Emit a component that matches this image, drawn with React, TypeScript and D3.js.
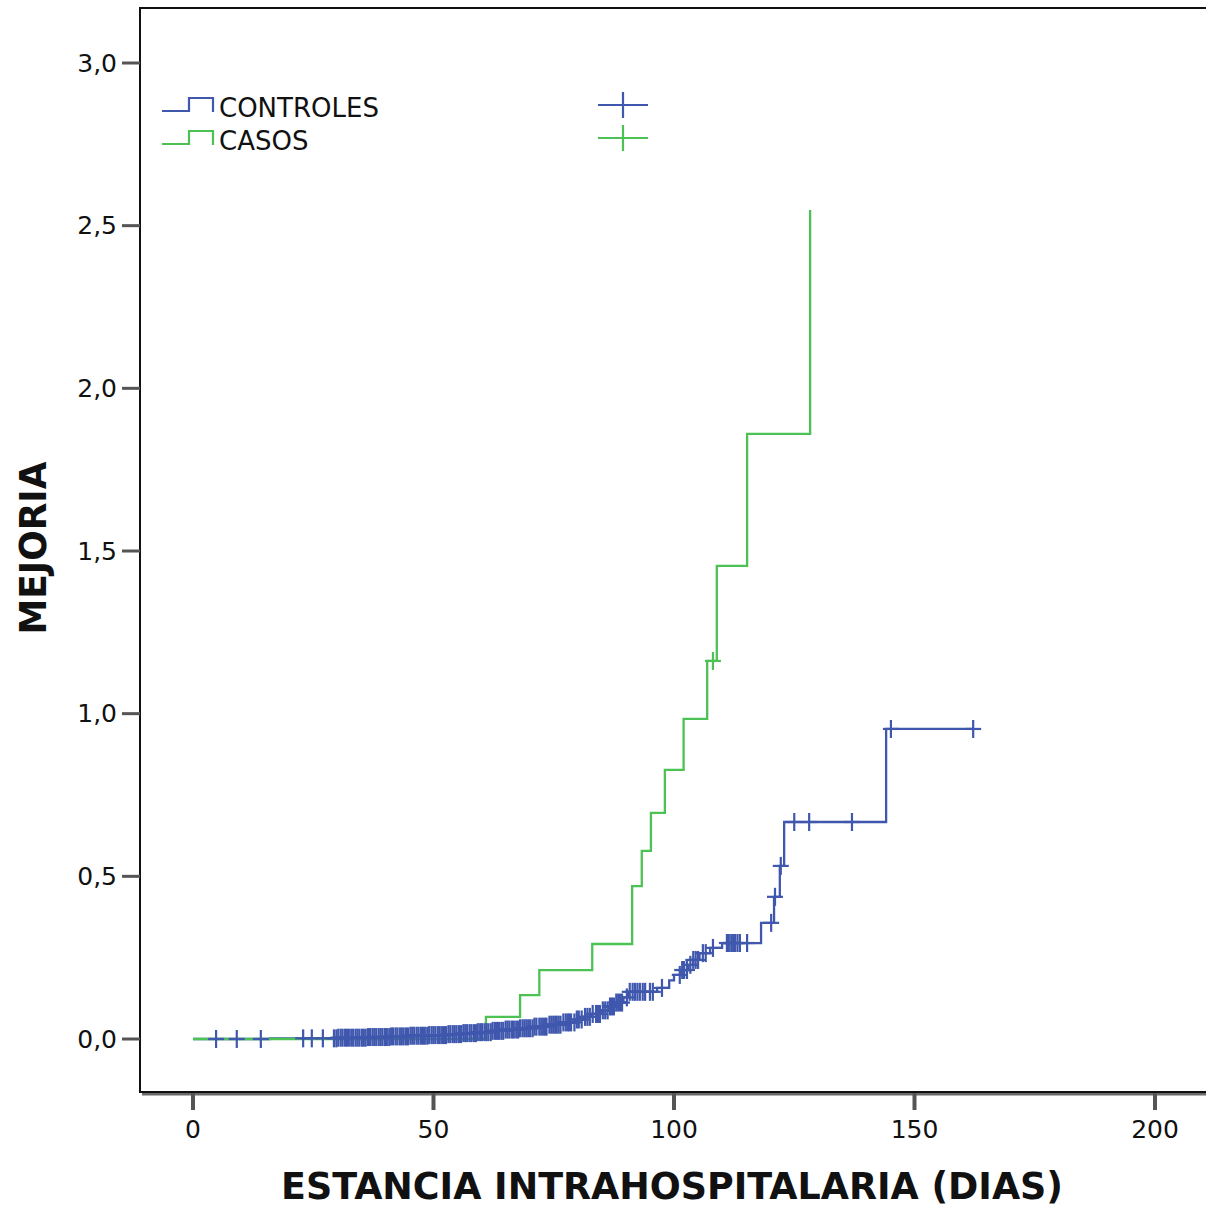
import React from "react";
import * as d3 from "d3";

// Cumulative hazard step points (time in days, value) per group
const controlStepTimes = [0, 16, 30, 36, 41, 45, 49, 53, 56, 59, 62, 65, 68, 71, 74, 77, 79.5, 81, 83, 85, 86.5, 88, 89.5, 90.5, 96.5, 99, 100, 101.5, 103, 104, 105.3, 107.5, 110, 118.1, 120.8, 122, 122.9, 144.1];
const controlStepValues = [0, 0.002, 0.004, 0.006, 0.008, 0.01, 0.012, 0.015, 0.018, 0.021, 0.025, 0.029, 0.033, 0.038, 0.044, 0.051, 0.06, 0.068, 0.077, 0.088, 0.1, 0.112, 0.128, 0.145, 0.157, 0.18, 0.197, 0.212, 0.228, 0.243, 0.264, 0.28, 0.295, 0.357, 0.437, 0.532, 0.667, 0.953];
const controlEnd = 162.2;
const controlCensorTimes = [
  4.8, 9.1, 14.1, 22.9, 24.7, 27.0,
  29.3, 29.8, 30.2, 30.7, 31.1, 31.6, 32.0, 32.4, 32.9, 33.3, 33.8, 34.2, 34.6, 35.1, 35.5, 35.9, 36.4, 36.8, 37.3, 37.7,
  38.1, 38.6, 39.0, 39.4, 39.9, 40.3, 40.8, 41.2, 41.6, 42.1, 42.5, 43.0, 43.4, 43.8, 44.3, 44.7, 45.2, 45.6, 46.0, 46.5,
  46.9, 47.4, 47.8, 48.2, 48.7, 49.1, 49.6, 50.0, 50.4, 50.9, 51.3, 51.8, 52.2, 52.6, 53.1, 53.5, 54.0, 54.4, 54.8, 55.3,
  55.7, 56.2, 56.6, 57.0, 57.5, 57.9, 58.4, 58.8, 59.2, 59.7, 60.1, 60.6, 61.0, 61.4, 61.9, 62.3, 62.8, 63.2, 63.6, 64.1,
  64.5, 65.0, 65.4, 65.8, 66.3, 66.7, 67.2, 67.6, 68.0, 68.5, 68.9, 69.3, 69.7, 70.1, 70.6, 71.0, 71.4, 72.0, 72.4, 72.8,
  73.2, 73.5, 74.1, 74.5, 74.9, 75.3, 75.6, 76.0, 76.4, 77.0, 77.5, 77.9, 78.2, 78.6, 79.3, 79.8, 80.2, 80.8, 81.5, 82.0,
  82.5, 83.1, 83.8, 84.2, 84.6, 85.2, 85.7, 86.2, 86.7, 87.1, 87.5, 88.0, 88.4, 88.8, 89.2, 90.2, 90.8, 91.4, 91.9, 92.4,
  92.9, 93.5, 94.0, 95.0, 95.6, 97.5, 101.2, 101.7, 102.1, 102.7, 103.4, 104.0, 104.5, 105.0, 106.0, 106.6, 108.1, 111.0,
  111.4, 111.9, 112.3, 112.7, 113.2, 113.7, 115.2, 120.2, 121.0, 122.2,
  125.0, 128.1, 137.0, 145.1, 162.2,
];

const caseStepTimes = [0, 60.9, 68, 72, 83, 91.3, 93.3, 95.2, 98.1, 102, 106.9, 108.9, 115.2, 128.3];
const caseStepValues = [0, 0.068, 0.135, 0.212, 0.292, 0.47, 0.578, 0.695, 0.827, 0.984, 1.162, 1.454, 1.86, 2.548];
const caseEnd = 128.3;
const caseCensorTimes = [108.1];

const xTicks = [0, 50, 100, 150, 200];
const yTicks = [0, 0.5, 1, 1.5, 2, 2.5, 3];
const groupNames = ["CONTROLES", "CASOS"];
const groupColors = ["#3f57ad", "#4cc255"];

const FONT = "'DejaVu Sans', Verdana, sans-serif";

const x = d3.scaleLinear().domain([0, 200]).range([193, 1155]);
const y = d3.scaleLinear().domain([0, 3]).range([1039, 63]);

function stepPoints(times: number[], values: number[], end: number): [number, number][] {
  const pts: [number, number][] = times.map((t, i) => [t, values[i]]);
  pts.push([end, values[values.length - 1]]);
  return pts;
}

function valueAt(times: number[], values: number[], t: number): number {
  const i = d3.bisectRight(times, t) - 1;
  return values[Math.max(0, i)];
}

const line = d3
  .line<[number, number]>()
  .x((d) => x(d[0]))
  .y((d) => y(d[1]))
  .curve(d3.curveStepAfter);

const fmt = (v: number) => d3.format(".1f")(v).replace(".", ",");

function Censor({ cx, cy, color, h = 9, w = 8 }: { cx: number; cy: number; color: string; h?: number; w?: number }) {
  return (
    <g stroke={color} strokeWidth={2.2}>
      <line x1={cx - w} x2={cx + w} y1={cy} y2={cy} />
      <line x1={cx} x2={cx} y1={cy - h} y2={cy + h} />
    </g>
  );
}

export default function App() {
  const groups = [
    { times: controlStepTimes, values: controlStepValues, end: controlEnd, censor: controlCensorTimes },
    { times: caseStepTimes, values: caseStepValues, end: caseEnd, censor: caseCensorTimes },
  ];
  const left = 140;
  const top = 8;
  const bottom = 1092;
  const right = 1216;

  return (
    <svg
      width={1206}
      height={1209}
      style={{ position: "absolute", left: 0, top: 0, background: "#fff" }}
      fontFamily={FONT}
    >
      <rect x={0} y={0} width={1206} height={1209} fill="#fff" />

      {/* frame with a soft drop shadow */}
      <g fill="none">
        <path d={`M${left + 2},${bottom + 2} H${right}`} stroke="#6a6a6a" strokeWidth={3} />
        <path d={`M${left},${top} H${right} V${bottom} H${left} Z`} stroke="#111" strokeWidth={2} />
      </g>

      {/* y ticks */}
      {yTicks.map((v) => (
        <g key={v}>
          <line x1={122} x2={left} y1={y(v)} y2={y(v)} stroke="#555" strokeWidth={3} />
          <text x={117} y={y(v)} textAnchor="end" dominantBaseline="central" fontSize={25} fill="#111">
            {fmt(v)}
          </text>
        </g>
      ))}

      {/* x ticks */}
      {xTicks.map((v) => (
        <g key={v}>
          <line x1={x(v)} x2={x(v)} y1={bottom + 1} y2={1110} stroke="#555" strokeWidth={4} />
          <text x={x(v)} y={1138} textAnchor="middle" fontSize={25} fill="#111">
            {v}
          </text>
        </g>
      ))}

      {/* axis titles */}
      <text
        x={672}
        y={1199}
        textAnchor="middle"
        fontSize={37}
        fontWeight="bold"
        textLength={782}
        lengthAdjust="spacingAndGlyphs"
        fill="#111"
      >
        ESTANCIA INTRAHOSPITALARIA (DIAS)
      </text>
      <text
        transform="translate(46,548) rotate(-90)"
        textAnchor="middle"
        fontSize={37}
        fontWeight="bold"
        textLength={173}
        lengthAdjust="spacingAndGlyphs"
        fill="#111"
      >
        MEJORIA
      </text>

      {/* step curves */}
      {groups.map((g, gi) => (
        <path
          key={gi}
          d={line(stepPoints(g.times, g.values, g.end)) || ""}
          fill="none"
          stroke={groupColors[gi]}
          strokeWidth={2.3}
        />
      ))}

      {/* censored observations */}
      {groups.map((g, gi) => (
        <g key={"c" + gi}>
          {g.censor.map((t, i) => (
            <Censor key={i} cx={x(t)} cy={y(valueAt(g.times, g.values, t))} color={groupColors[gi]} />
          ))}
        </g>
      ))}

      {/* legend */}
      {groupNames.map((name, i) => {
        const base = i === 0 ? 111 : 144;
        return (
          <g key={name}>
            <path
              d={`M162,${base} H189 V${base - 13} H213 V${base + 1}`}
              fill="none"
              stroke={groupColors[i]}
              strokeWidth={2.2}
            />
            <text x={219} y={base + 6} fontSize={26} fill="#111">
              {name}
            </text>
            <Censor cx={623} cy={i === 0 ? 105 : 138} color={groupColors[i]} h={13} w={25} />
          </g>
        );
      })}
    </svg>
  );
}
